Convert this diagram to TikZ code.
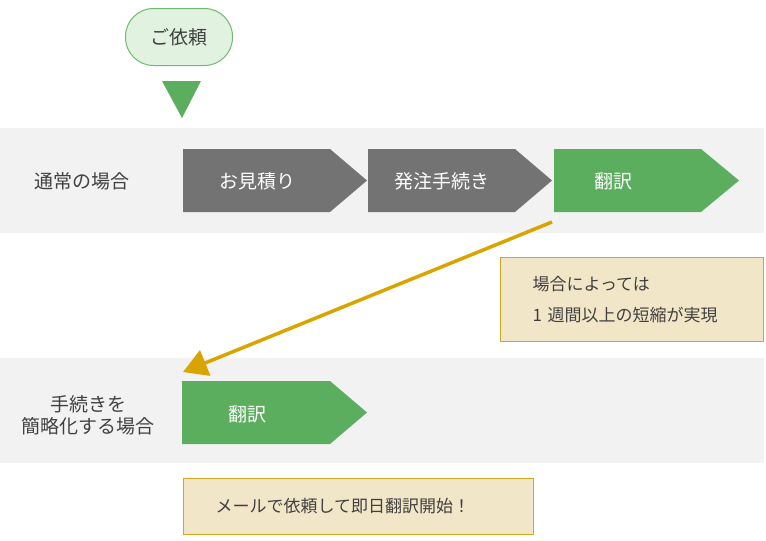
\documentclass[tikz,border=0pt]{standalone}
\usepackage{fontspec}
\setmainfont{Noto Sans CJK JP}
\usetikzlibrary{arrows.meta}

\definecolor{bandgray}{HTML}{F2F2F2}
\definecolor{stepgray}{HTML}{737373}
\definecolor{stepgreen}{HTML}{5CAE5F}
\definecolor{pillfill}{HTML}{E2F2E1}
\definecolor{pillline}{HTML}{6DBB6B}
\definecolor{notefill}{HTML}{F2E6C8}
\definecolor{notegold}{HTML}{DAA520}
\definecolor{jumpgold}{HTML}{D9A300}
\definecolor{textgray}{HTML}{404040}

\begin{document}
\begin{tikzpicture}[x=1pt,y=-1pt,
    every node/.style={font=\fontsize{19}{22}\selectfont, text=textgray},
    pill/.style={draw=pillline, fill=pillfill, line width=1pt, rounded corners=28pt,
      minimum width=107pt, minimum height=57pt},
    steptext/.style={text=white},
    note/.style={draw=notegold, fill=notefill, line width=1pt, align=left,
      inner xsep=32pt, anchor=north west, font=\fontsize{17}{31}\selectfont},
    jump/.style={draw=jumpgold, line width=3.5pt, -{Triangle[length=24pt,width=27pt]}}]
  \useasboundingbox (0,0) rectangle (766,541);

  % request bubble and drop marker
  \node[pill] (request) at (179,37) {ご依頼};
  \fill[stepgreen] (162,81) -- (201,81) -- (182,118) -- cycle;

  % normal case
  \fill[bandgray] (0,128) rectangle (764,233);
  \node (normal) at (82,181) {通常の場合};
  \fill[stepgray] (183,149) -- (330,149) -- (367,180.5) -- (330,212) -- (183,212) -- cycle;
  \fill[stepgray] (368,149) -- (515,149) -- (552,180.5) -- (515,212) -- (368,212) -- cycle;
  \fill[stepgreen] (554,149) -- (701,149) -- (739,180.5) -- (701,212) -- (554,212) -- cycle;
  \node[steptext] (estimate) at (257,181) {お見積り};
  \node[steptext] (order) at (442,181) {発注手続き};
  \node[steptext] (translate) at (613,181) {翻訳};

  % note on time saved
  \node[note, text width=199pt, minimum height=84pt] (saving) at (500,257)
    {場合によっては\\1 週間以上の短縮が実現};

  % simplified case
  \fill[bandgray] (0,358) rectangle (764,463);
  \node[align=center] (simple) at (88,415) {手続きを\\簡略化する場合};
  \fill[stepgreen] (182,381) -- (330,381) -- (367,412.5) -- (330,444) -- (182,444) -- cycle;
  \node[steptext] (directtr) at (247,414) {翻訳};

  % jump arrow
  \coordinate (jumpstart) at (552,222);
  \coordinate (jumpend) at (183,372);
  \draw[jump] (jumpstart) -- (jumpend);

  % mail note
  \node[note, text width=286pt, minimum height=56pt] (mail) at (183,478)
    {メールで依頼して即日翻訳開始！};
\end{tikzpicture}
\end{document}
